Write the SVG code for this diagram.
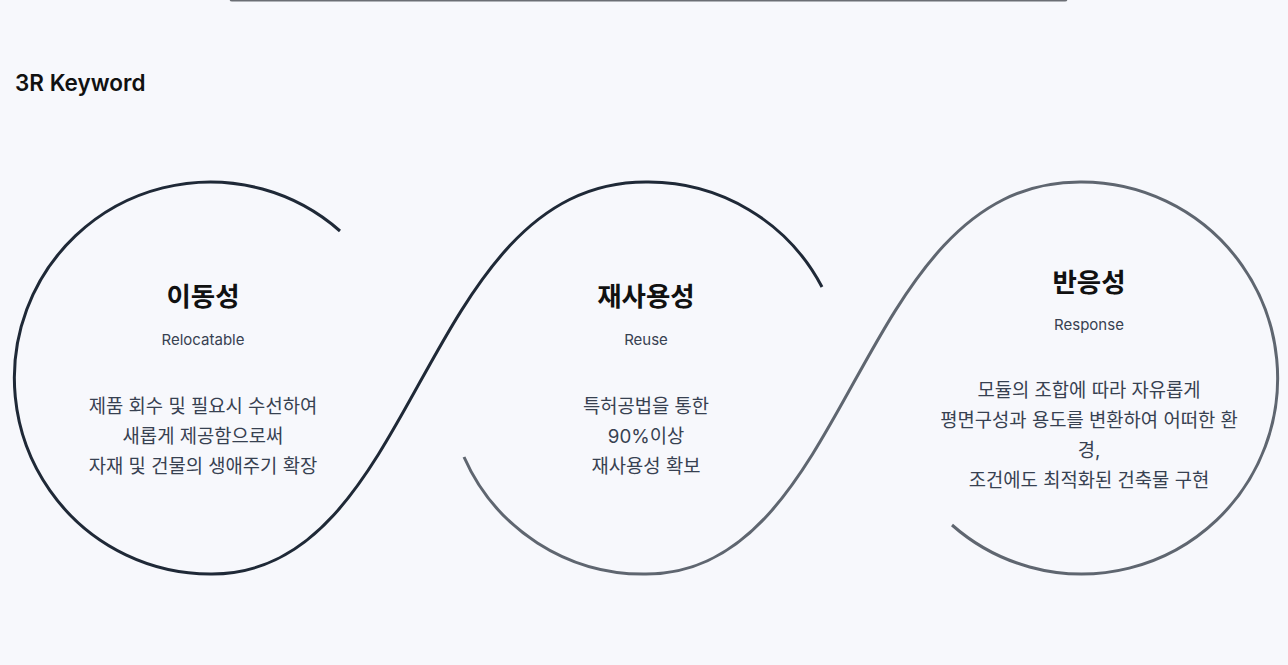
<svg xmlns="http://www.w3.org/2000/svg" width="1288" height="665" viewBox="0 0 1288 665">
<style>
text{font-family:Inter,"Noto Sans CJK KR",sans-serif;text-anchor:middle}
.t{font-size:26.5px;font-weight:700;fill:#111}
.s{font-size:15px;fill:#374151}
.b{font-size:18.8px;fill:#374151}
.dk{fill:none;stroke:#1f2937;stroke-width:3}
.gr{fill:none;stroke:#5f6670;stroke-width:3}
</style>
<rect width="1288" height="665" fill="#f7f8fc"/>
<line x1="232" y1="-1" x2="1065" y2="-1" stroke="#6b6e74" stroke-width="5" stroke-linecap="round"/>
<text x="15" y="91" style="text-anchor:start;font-size:22.5px;font-weight:600;fill:#111">3R Keyword</text>
<g id="connectors">
<path class="dk" d="M340,231 A196,196 0 1 0 212,574 C420,574 420,182 646,182 A196,196 0 0 1 822,287"/>
<path class="gr" d="M464,457 A196,196 0 0 0 646,574 C854,574 854,182 1080,182 A196,196 0 1 1 952,525"/>
</g>
<g id="n1">
<text class="t" x="203" y="306">이동성</text>
<text class="s" x="203" y="345">Relocatable</text>
<text class="b" x="203" y="413">제품 회수 및 필요시 수선하여</text>
<text class="b" x="203" y="443">새롭게 제공함으로써</text>
<text class="b" x="203" y="473">자재 및 건물의 생애주기 확장</text>
</g>
<g id="n2">
<text class="t" x="646" y="306">재사용성</text>
<text class="s" x="646" y="345">Reuse</text>
<text class="b" x="646" y="413">특허공법을 통한</text>
<text class="b" x="646" y="443">90%이상</text>
<text class="b" x="646" y="473">재사용성 확보</text>
</g>
<g id="n3">
<text class="t" x="1089" y="292">반응성</text>
<text class="s" x="1089" y="330">Response</text>
<text class="b" x="1089" y="397">모듈의 조합에 따라 자유롭게</text>
<text class="b" x="1089" y="427">평면구성과 용도를 변환하여 어떠한 환</text>
<text class="b" x="1089" y="457">경,</text>
<text class="b" x="1089" y="487">조건에도 최적화된 건축물 구현</text>
</g>
</svg>
